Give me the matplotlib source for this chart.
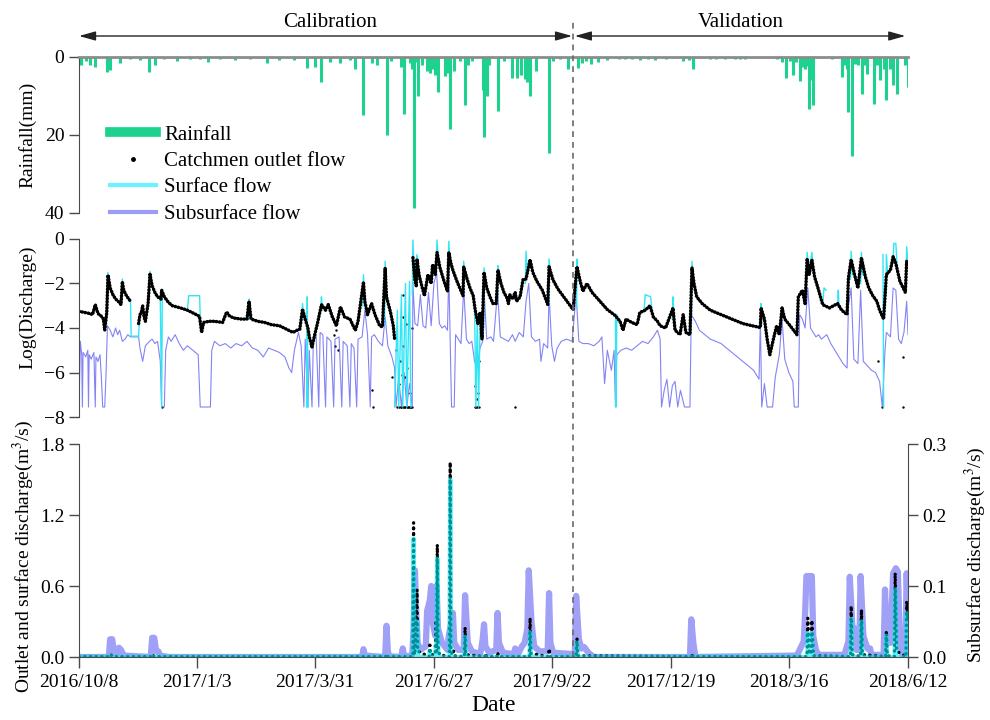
import numpy as np
import pandas as pd
import matplotlib
matplotlib.use('Agg')
import matplotlib.pyplot as plt
import matplotlib.dates as mdates
from matplotlib.lines import Line2D
from matplotlib.ticker import FormatStrFormatter
from matplotlib.transforms import blended_transform_factory

plt.rcParams.update({'font.family': 'serif',
                     'font.serif': ['Liberation Serif'],
                     'mathtext.fontset': 'stix',
                     'font.size': 14})

# time axis: days counted from the first day of the record
start = pd.Timestamp('2016-10-08')
end = pd.Timestamp('2018-06-12')
split = pd.Timestamp('2017-10-08')   # calibration | validation
tick_labels = ['2016/10/8', '2017/1/3', '2017/3/31', '2017/6/27',
               '2017/9/22', '2017/12/19', '2018/3/16', '2018/6/12']

nan = np.nan
FLOOR = -7.55   # log value used where the flow is zero

# daily rainfall (day, mm)
rain = [(1.5, 2.0), (5, 1.0), (8, 2.0), (12, 2.7), (21, 3.8), (23, 3.4), (30, 1.5),
        (38, 0.6), (45, 0.8), (52, 3.8), (56, 2.0), (63, 0.5), (72, 1.0), (82, 0.5),
        (89, 0.6), (95, 1.2), (104, 0.6), (115, 0.8), (126, 0.6), (139, 1.5), (148, 0.8),
        (159, 0.7), (168, 2.9), (174, 2.5), (179, 6.4), (185, 1.2), (193, 1.6), (200, 0.8),
        (204, 3.0), (210, 15.0), (216, 1.5), (220, 2.0), (227, 19.9), (230, 1.0),
        (238, 2.6), (240, 14.7), (244, 1.5), (246, 3.0), (247, 38.7), (249, 1.3),
        (250, 10.0), (253, 2.0), (257, 3.5), (259, 4.0), (261, 3.0), (263, 4.5),
        (264, 3.0), (265, 9.0), (270, 4.9), (272, 4.0), (274, 18.4), (277, 3.5),
        (281, 1.0), (285, 12.3), (287, 2.0), (290, 1.0), (298, 8.6), (299, 20.5),
        (301, 10.0), (303, 2.0), (309, 13.9), (314, 1.0), (320, 5.4), (323, 5.4),
        (326, 4.5), (329, 5.7), (331, 6.5), (333, 9.9), (337, 3.5), (347, 24.5),
        (350, 1.0), (355, 0.6), (361, 3.2), (368, 2.8), (371, 1.5), (374, 1.0),
        (378, 1.9), (383, 1.2), (390, 0.8), (399, 0.6), (403, 0.6), (408, 0.5),
        (414, 0.8), (420, 0.5), (425, 0.8), (433, 0.5), (446, 1.0), (450, 0.8),
        (453, 3.2), (466, 0.6), (470, 0.6), (477, 0.6), (484, 0.5), (488, 0.6),
        (492, 0.5), (515, 0.6), (519, 1.2), (522, 5.4), (525, 1.0), (527, 4.5),
        (529, 1.2), (532, 6.2), (534, 2.5), (536, 3.0), (537, 2.2), (539, 13.4),
        (540, 6.0), (542, 12.2), (556, 0.5), (563, 5.1), (565, 2.0), (567, 3.0),
        (568, 14.1), (571, 25.5), (573, 1.7), (575, 2.0), (578, 9.6), (580, 2.0),
        (582, 4.4), (587, 12.0), (589, 2.0), (591, 6.0), (594, 3.0), (596, 11.1),
        (599, 3.0), (601, 7.3), (604, 9.5), (610, 2.1), (612, 7.7)]

# observed outlet flow, log scale (day, value); nan = no record
obs_log = [(0, -3.25), (4, -3.3), (8, -3.35), (10, -3.4), (12, -2.95), (14, -3.35),
           (17, -3.5), (18, -3.6), (19, -4.1), (20.5, -3.3), (21.4, -1.62), (23, -2.2),
           (25, -2.5), (27, -2.7), (29, -2.8), (31, -2.95), (32, -1.92), (33, -2.3),
           (35, -2.55), (38, -2.8), (41, nan), (44, -3.8), (45, -3.4), (46, -3.3),
           (47, -3.0), (48, -3.5), (49, -3.7), (51, -2.9), (52.4, -1.59), (54, -2.1),
           (56, -2.4), (58, -2.6), (60.5, -2.7), (61, -2.3), (63, -2.6), (66, -2.85),
           (69, -3.0), (75, -3.1), (80, -3.2), (85, -3.35), (89, -3.48), (90.5, -4.2),
           (92, -3.75), (96, -3.7), (100, -3.7), (106, -3.75), (109, -3.28), (111, -3.45),
           (114, -3.55), (120, -3.6), (124, -3.6), (125.5, -2.8), (127, -3.6), (132, -3.7),
           (137, -3.75), (142, -3.85), (148, -3.9), (153, -4.05), (158, -4.2), (161, -4.1),
           (163, -4.05), (165, -3.15), (167, -3.6), (169, -4.0), (170, -4.4), (172, -4.85),
           (174, -4.3), (176, -3.8), (179, -2.95), (182, -3.2), (184, -2.95), (187, -3.5),
           (190, -3.9), (193, -3.05), (196, -3.5), (200, -3.6), (204, -4.1), (206, -3.7),
           (210, -1.93), (211, -2.8), (213, -3.4), (216, -2.9), (218.5, -3.4), (222, -3.9),
           (224, -3.95), (226, -1.3), (227, -2.6), (230, -3.3), (232, -3.9), (233, -4.5),
           (240, nan), (246.5, -0.84), (248, -1.9), (249, -2.1), (249.5, -0.9), (251, -1.6),
           (253, -2.1), (255, -2.55), (257.6, -1.6), (260, -2.0), (261, -1.15), (263, -1.6),
           (264.3, -0.61), (266.5, -1.3), (269.5, -1.9), (272, -2.35), (273, -0.6),
           (274.6, -1.1), (276, -1.4), (279, -1.9), (283.5, -2.55), (284, -1.25),
           (286.5, -1.8), (288.6, -2.2), (291, -2.55), (292.5, -3.2), (294.5, -3.8),
           (296, -3.3), (297.5, -4.5), (299, -1.5), (301, -2.2), (303.4, -2.6),
           (305.6, -2.9), (308, -2.9), (309.3, -1.4), (311.5, -2.0), (313.7, -2.4),
           (316, -2.66), (317, -2.9), (318, -2.5), (320, -2.7), (322, -2.4), (323, -2.8),
           (325.6, -2.6), (327.8, -1.82), (330, -1.8), (333, -0.93), (335, -1.5),
           (338, -1.9), (342, -2.3), (346, -2.94), (347, -1.25), (350, -1.85),
           (353.6, -2.25), (359, -2.7), (364.7, -3.17), (367.6, -1.25), (370, -1.9),
           (372, -2.35), (375, -2.0), (378.7, -2.4), (384.6, -2.8), (390, -3.17),
           (396, -3.45), (399.4, -3.7), (401.6, -4.1), (403.8, -3.6), (408, -3.75),
           (412, -3.85), (414, -3.3), (418, -3.2), (421.5, -3.0), (424, -3.5), (427, -3.7),
           (429, -3.9), (433, -4.0), (438.5, -3.1), (440, -4.1), (443.7, -4.3), (446, -3.4),
           (448, -4.2), (451, -4.3), (452.5, -1.29), (454, -2.0), (456, -2.6), (460, -2.9),
           (466, -3.2), (472, -3.35), (478, -3.5), (484, -3.65), (490, -3.8), (497, -3.9),
           (503, -3.98), (503.5, -3.1), (506, -3.6), (508, -4.5), (510, -5.2), (513, -4.4),
           (515, -3.9), (517, -4.3), (519, -3.1), (521, -3.6), (525, -3.9), (530, -4.3),
           (531, -2.6), (534, -2.3), (536, -2.9), (537.5, -0.93), (539, -1.6), (541, -0.93),
           (543, -1.7), (546, -2.3), (549, -2.95), (554, -3.1), (560, -2.9), (563, -3.2),
           (567, -3.4), (568, -1.75), (570, -0.93), (572.5, -1.6), (575, -2.2),
           (577.6, -0.84), (580.5, -1.7), (583, -2.2), (586, -2.55), (589, -2.8),
           (591, -3.2), (594, -3.6), (596, -1.6), (599, -1.4), (601, -0.8), (603, -1.1),
           (606, -1.9), (610, -2.4), (611, -1.0), (612, -1.2)]

# isolated observed records off the main curve (day, value)
obs_log_loose = [(61, FLOOR), (188, -4.3), (189, -4.8), (190, -4.1), (191, -5.0),
                 (216.5, -6.8), (217, FLOOR), (231, -6.2), (234, -5.0), (235, FLOOR),
                 (236, -6.5), (236.5, FLOOR), (237, -5.5), (237.5, FLOOR), (238, FLOOR),
                 (238.5, -6.1), (239, -2.5), (239, -3.5), (239, -4.8), (239.5, FLOOR),
                 (240, FLOOR), (240.5, -6.2), (241, FLOOR), (241.5, -3.8), (242, FLOOR),
                 (242.5, -5.8), (243, FLOOR), (243.5, FLOOR), (244, -6.9), (244.5, FLOOR),
                 (245, FLOOR), (245.5, -4.0), (246, FLOOR), (292, FLOOR), (292.5, -6.6),
                 (293, FLOOR), (293.5, -7.2), (294, FLOOR), (294.5, -6.9), (295, FLOOR),
                 (295.5, -5.5), (322, FLOOR), (590, -5.5), (593, FLOOR), (608, -5.3),
                 (608.5, FLOOR)]

# simulated surface flow, log scale; only event segments are defined
surf_log = [(20, -3.4), (21.3, -1.5), (23, -2.3), (24, nan),
            (31.5, -2.9), (32, -1.8), (33, -2.4), (34, nan),
            (38, -2.8), (38.5, -4.37), (44, -4.37), (44.5, -3.8), (45, nan),
            (52, -2.4), (52.4, -1.45), (54, -2.1), (55, nan),
            (60, -2.7), (61, FLOOR), (61.5, -2.4), (62, nan),
            (80, -3.2), (81, -2.55), (89, -2.55), (89.5, -3.48), (90, nan),
            (125, -3.6), (125.5, -2.7), (126, -3.6), (127, nan),
            (164.5, -3.6), (165, -2.9), (166, -3.6), (167, nan),
            (168, FLOOR), (168.5, -2.6), (169, FLOOR), (170, nan),
            (178.5, -3.2), (179, -2.6), (179.5, -3.2), (180, nan),
            (209.5, -3.0), (210, -1.6), (211, -2.8), (212, nan),
            (225.5, -3.9), (226, -1.0), (227, -2.6), (228, nan),
            (233, FLOOR), (235, -3.2), (236, FLOOR), (238, -2.5), (239, FLOOR),
            (241, -2.0), (242, FLOOR), (244, -1.9), (245, FLOOR), (245.5, nan),
            (246, -2.5), (246.5, -0.05), (247.5, -1.6), (249.5, -0.7), (251, -1.8), (252, nan),
            (263.5, -1.5), (264.3, -0.05), (265.5, -1.2), (266, nan),
            (272.5, -2.3), (273, -0.1), (274, -1.2), (275, nan),
            (283.8, -2.5), (284, -1.0), (285, -1.8), (286, nan),
            (292, -3.0), (293, FLOOR), (294, -3.5), (295, FLOOR), (296, -4.0), (297, nan),
            (298.8, -4.0), (299, -1.3), (300, -2.0), (301, nan),
            (309, -2.8), (309.3, -1.2), (310, -1.9), (311, nan),
            (329.5, -2.0), (330, -0.55), (331, -1.5), (332, nan),
            (346.8, -2.9), (347, -0.9), (348, -1.5), (349, nan),
            (367.3, -3.1), (367.6, -0.9), (368.5, -1.6), (369, nan),
            (396, -3.4), (396.5, FLOOR), (397, -3.4), (398, nan),
            (417, -3.3), (418, -2.5), (422, -2.6), (423, -3.2), (424, nan),
            (438, -3.6), (438.5, -2.6), (439, -3.8), (440, nan),
            (452, -4.2), (452.5, -1.0), (453.5, -2.0), (454, nan),
            (503, -3.9), (503.5, -2.9), (504, -3.8), (505, nan),
            (537, -2.0), (537.5, -0.6), (539, -1.5), (541, -0.6), (542.5, -1.6), (543, nan),
            (549, -3.0), (550, -2.2), (551.5, -2.3), (552, nan),
            (560, -3.0), (560.5, -2.3), (561, -3.0), (562, nan),
            (569.5, -1.8), (570, -0.55), (571, -1.6), (572, nan),
            (577, -2.0), (577.6, -0.6), (578.5, -1.6), (579, nan),
            (593.5, -0.7), (594, FLOOR), (595, nan),
            (595.8, -2.5), (596, -0.7), (597, -1.6), (598, nan),
            (601, -1.0), (601.5, -0.2), (603, -0.2), (604, -1.3), (605, nan),
            (610.5, -2.0), (611, -0.35), (612, -1.0)]

# simulated subsurface flow, log scale
sub_log = [(0, FLOOR), (1, -4.6), (2, -5.2), (2.5, FLOOR), (3, -5.1), (5, -5.3), (6.5, -5.0),
           (7, FLOOR), (7.5, -5.2), (9, -5.4), (11, -5.1), (12, FLOOR), (12.5, -5.3),
           (14, -5.5), (15.5, -5.2), (16.5, -6.2), (17.5, FLOOR), (19, FLOOR), (20, -6.0),
           (21, -3.9), (23, -4.1), (25, -4.4), (27, -4.0), (28.5, -4.3), (30, -4.1),
           (32, -4.6), (34, -4.5), (36, -4.3), (38, -4.4), (44, -4.4), (45, -4.9),
           (47, -5.5), (49, -4.8), (52, -4.6), (54, -4.5), (56, -4.7), (58, -4.6),
           (60, -5.5), (61, FLOOR), (63, FLOOR), (64, -5.0), (66, -4.4), (68, -4.6),
           (71, -4.3), (74, -4.7), (77, -5.0), (80, -4.8), (84, -5.0), (88, -5.2),
           (89.5, FLOOR), (97, FLOOR), (98, -5.0), (100, -4.6), (104, -4.8), (108, -4.7),
           (112, -4.9), (116, -4.7), (120, -4.8), (124, -4.6), (128, -4.9), (132, -5.0),
           (136, -5.3), (140, -4.9), (144, -5.0), (148, -5.1), (152, -5.3), (155, -5.8),
           (157, -6.0), (159, -5.0), (162, -4.2), (164, -4.8), (166, FLOOR), (167, -4.5),
           (169, FLOOR), (170, -5.0), (172, FLOOR), (173, -4.6), (175, -4.3), (177, FLOOR),
           (178, -4.2), (180, -4.3), (182, FLOOR), (183, -4.4), (186, -4.6), (188, FLOOR),
           (189, -4.5), (192, -4.4), (194, FLOOR), (195, -4.6), (198, -4.8), (200, FLOOR),
           (201, -4.7), (203, -4.9), (205, FLOOR), (206, -4.5), (209, -4.4), (211, -3.2),
           (213, -4.3), (215, FLOOR), (216, -4.4), (218, -4.3), (221, -4.6), (224, -4.8),
           (226, -3.5), (228, -4.8), (231, -5.3), (233, -5.8), (234, FLOOR), (236, -6.2),
           (238, FLOOR), (240, -6.0), (242, FLOOR), (244, -6.5), (246, FLOOR), (246.5, -2.0),
           (248, -3.8), (250, -3.9), (252, -2.5), (254, -3.9), (256, -4.0), (258, -2.4),
           (260, -3.9), (262, -2.0), (264, -1.5), (266, -3.8), (268, -4.0), (270, -3.9),
           (272, -4.1), (273, -1.5), (275, FLOOR), (277, FLOOR), (278, -4.3), (280, -4.5),
           (282, -4.7), (284, -2.2), (286, -4.5), (288, -4.7), (290, -4.6), (292, -5.5),
           (294, -5.8), (296, -4.9), (298, -4.6), (299, -2.3), (301, -4.5), (304, -4.4),
           (306, -4.6), (309, -2.3), (311, -4.4), (314, -4.5), (317, -4.6), (320, -4.3),
           (322, -4.6), (325, -4.2), (328, -4.4), (330, -2.8), (332, -2.0), (334, -4.4),
           (337, -4.6), (340, -4.5), (341, -5.5), (343, -4.7), (346, -4.9), (347, -2.5),
           (349, -4.8), (351, -5.5), (353, -4.9), (356, -4.6), (360, -4.5), (364, -4.6),
           (367, -2.5), (369, -4.6), (372, -4.7), (376, -4.7), (380, -4.8), (384, -4.6),
           (386, -4.4), (388, -6.5), (390, -5.0), (393, -5.9), (395, -5.0), (396, FLOOR),
           (397, -5.2), (400, -5.0), (404, -4.9), (408, -5.0), (412, -4.8), (416, -4.6),
           (420, -4.7), (424, -4.4), (427, -4.1), (429, -4.5), (430, FLOOR), (432, -6.8),
           (434, -6.3), (436, FLOOR), (438, -6.6), (440, -6.4), (442, FLOOR), (444, -6.8),
           (447, FLOOR), (451, FLOOR), (452, -3.4), (455, -3.7), (458, -4.1), (462, -4.3),
           (466, -4.5), (470, -4.6), (474, -4.7), (478, -4.9), (482, -5.1), (486, -5.3),
           (490, -5.5), (494, -5.7), (498, -5.9), (502, -6.3), (503, -3.6), (504, FLOOR),
           (506, -6.5), (508, FLOOR), (512, FLOOR), (514, -6.2), (517, -5.2), (519, -3.6),
           (521, -5.4), (524, -6.0), (527, -6.4), (528, FLOOR), (531, FLOOR), (532, -3.4),
           (534, -3.6), (536, -4.0), (538, -2.2), (540, -4.0), (542, -4.2), (544, -4.4),
           (546, -4.3), (548, -4.5), (550, -4.4), (552, -4.3), (555, -4.7), (558, -5.0),
           (561, -5.3), (564, -5.6), (567, -5.8), (568, -3.0), (570, -2.2), (572, -5.4),
           (575, -5.6), (577, -2.3), (579, -5.5), (582, -5.7), (585, -5.9), (588, -6.0),
           (591, -6.4), (593, FLOOR), (595, -5.0), (596, -4.2), (599, -4.4), (601, -2.2),
           (603, -2.3), (605, -4.5), (607, -4.7), (609, -4.2), (611, -2.8), (612, -4.3)]

# observed outlet discharge, m3/s (day, value)
obs_q = [(0, 0.003), (23, 0.003), (23.6, 0.02), (24.5, 0.003), (54, 0.003), (54.5, 0.02),
         (55.5, 0.003), (226.5, 0.003), (227, 0.025), (228, 0.003), (246.5, 0.003),
         (247, 1.135), (247.3, 0.05), (248, 0.02), (249.5, 0.57), (250, 0.05),
         (258.5, 0.003), (259, 0.1), (259.5, 0.02), (263, 0.02), (263.5, 0.31),
         (264, 0.05), (264.5, 0.95), (265, 0.1), (266, 0.02), (273.5, 0.003),
         (274, 1.645), (274.5, 0.06), (275.5, 0.02), (276.5, 0.05), (277, 0.01),
         (284.5, 0.003), (285, 0.25), (285.5, 0.02), (299.5, 0.003), (300, 0.03),
         (301, 0.003), (308.5, 0.003), (309, 0.04), (310, 0.003), (332.5, 0.003),
         (333, 0.33), (333.5, 0.03), (346.5, 0.003), (347, 0.07), (348, 0.003),
         (367, 0.003), (367.6, 0.16), (368.2, 0.01), (452, 0.003), (452.5, 0.03),
         (453.2, 0.003), (537.5, 0.003), (538, 0.33), (539, 0.03), (540.5, 0.03),
         (541, 0.31), (542, 0.01), (569.5, 0.003), (570, 0.43), (570.7, 0.02),
         (577, 0.003), (577.6, 0.4), (578.3, 0.02), (595.5, 0.003), (596, 0.22),
         (596.7, 0.01), (602, 0.003), (602.5, 0.71), (603.5, 0.05), (610.5, 0.003),
         (611, 0.47), (612, 0.3)]

# simulated surface discharge, m3/s
surf_q = [(0, 0.0), (23.3, 0.0), (23.6, 0.01), (24, 0.0), (246.6, 0.0), (247, 1.0),
          (247.5, 0.1), (249, 0.05), (249.5, 0.3), (250.2, 0.0), (258.8, 0.0), (259, 0.05),
          (259.5, 0.0), (263.3, 0.0), (263.5, 0.1), (263.8, 0.02), (264.5, 0.83),
          (265.2, 0.02), (266, 0.0), (273.6, 0.0), (274, 1.5), (274.6, 0.02), (275.5, 0.0),
          (284.7, 0.0), (285, 0.17), (285.5, 0.0), (332.7, 0.0), (333, 0.21), (333.6, 0.0),
          (367.3, 0.0), (367.6, 0.12), (368.2, 0.0), (537.7, 0.0), (538, 0.2),
          (538.6, 0.01), (540.7, 0.01), (541, 0.2), (541.6, 0.0), (569.7, 0.0), (570, 0.32),
          (570.6, 0.0), (577.3, 0.0), (577.6, 0.3), (578.2, 0.0), (595.7, 0.0), (596, 0.18),
          (596.6, 0.0), (602.2, 0.0), (602.5, 0.57), (603.3, 0.0), (610.7, 0.0), (611, 0.37),
          (612, 0.2)]

# simulated subsurface discharge, m3/s (right axis)
sub_q = [(0, 0.0), (22, 0.0), (23, 0.025), (24.5, 0.025), (26, 0.006), (28, 0.004),
         (29.5, 0.013), (31, 0.01), (33, 0.002), (53, 0.0), (54, 0.027), (55.5, 0.027),
         (57, 0.008), (58.5, 0.008), (60, 0.002), (66, 0.0), (209, 0.0), (210, 0.011),
         (211, 0.002), (226, 0.0), (227, 0.044), (228, 0.008), (229, 0.001), (238, 0.0),
         (239, 0.012), (240, 0.001), (246, 0.002), (247, 0.04), (248, 0.122), (249, 0.06),
         (250, 0.02), (252, 0.01), (256, 0.015), (257, 0.065), (259, 0.08), (260, 0.1),
         (261, 0.05), (263, 0.03), (264, 0.1), (265, 0.04), (268, 0.02), (272, 0.01),
         (273, 0.03), (275, 0.05), (276, 0.062), (277, 0.02), (280, 0.01), (284, 0.01),
         (285, 0.087), (287, 0.02), (290, 0.008), (296, 0.004), (297, 0.012), (298, 0.025),
         (299, 0.046), (300, 0.015), (303, 0.006), (308, 0.01), (309, 0.062), (310, 0.02),
         (313, 0.006), (321, 0.004), (322, 0.012), (324, 0.004), (327, 0.015), (329, 0.02),
         (331, 0.04), (332, 0.122), (334, 0.05), (336, 0.015), (340, 0.008), (346, 0.008),
         (347, 0.09), (348, 0.02), (350, 0.006), (366, 0.004), (367, 0.086), (369, 0.025),
         (371, 0.012), (373, 0.014), (376, 0.006), (380, 0.0), (451, 0.0), (452, 0.053),
         (453.5, 0.02), (455, 0.0), (530, 0.002), (535, 0.022), (536, 0.06), (537, 0.114),
         (541, 0.114), (542, 0.03), (544, 0.01), (546, 0.003), (565, 0.003), (568, 0.022),
         (569, 0.113), (571, 0.04), (573, 0.04), (574, 0.01), (576, 0.01), (577, 0.114),
         (579, 0.03), (582, 0.012), (584, 0.012), (585, 0.003), (594, 0.003), (595, 0.095),
         (596.5, 0.02), (599, 0.02), (601, 0.118), (603, 0.125), (604.5, 0.12), (606, 0.02),
         (608, 0.002), (610, 0.003), (611, 0.118), (612, 0.05)]


def split_xy(pairs):
    days, vals = np.array(pairs, dtype=float).T
    dates = (start + pd.to_timedelta(days, unit='D')).to_numpy()
    return dates, vals


# colours
c_rain = '#1DD28F'
c_surf = '#2FE6F5'
c_sub = '#A0A0F6'
c_sub_log = '#5A5AF2'
c_spine = '#4a4a4a'

fig = plt.figure(figsize=(9.9, 7.2), dpi=100)
left, width = 0.0798, 0.8374
ax1 = fig.add_axes([left, 0.7042, width, 0.2167])
ax2 = fig.add_axes([left, 0.4208, width, 0.2473])
ax3 = fig.add_axes([left, 0.0875, width, 0.2958])
ax4 = ax3.twinx()

# rainfall hanging from the top
x, y = split_xy(rain)
ax1.vlines(x, 0, y, color=c_rain, lw=2.2)
ax1.set_ylim(40, 0)
ax1.set_yticks([0, 20, 40])
ax1.set_ylabel('Rainfall(mm)')

# log discharge
x, y = split_xy(sub_log)
ax2.plot(x, y, color=c_sub_log, lw=0.8, alpha=0.75)
x, y = split_xy(surf_log)
ax2.plot(x, y, color=c_surf, lw=1.0)
x, y = split_xy(obs_log)
ax2.plot(x, y, color='k', lw=2.5, ls=(0, (0.1, 0.8)), dash_capstyle='round')
x, y = split_xy(obs_log_loose)
ax2.scatter(x, y, s=3, color='k', linewidths=0)
ax2.set_ylim(-8, 0)
ax2.set_yticks([0, -2, -4, -6, -8])
ax2.set_ylabel('Log(Discharge)')

# discharge, linear
x, y = split_xy(sub_q)
ax4.plot(x, y, color=c_sub, lw=4.5, solid_joinstyle='round')
x, y = split_xy(obs_q)
ax3.plot(x, y, color='k', lw=2.4, ls=(0, (0.1, 1.6)), dash_capstyle='round')
x, y = split_xy(surf_q)
ax3.plot(x, y, color='#00E8F0', lw=3.2, alpha=0.62)
ax3.set_ylim(0, 1.8)
ax3.set_yticks([0, 0.6, 1.2, 1.8])
ax3.yaxis.set_major_formatter(FormatStrFormatter('%.1f'))
ax4.set_ylim(0, 0.3)
ax4.set_yticks([0, 0.1, 0.2, 0.3])
ax4.yaxis.set_major_formatter(FormatStrFormatter('%.1f'))
ax3.set_zorder(ax4.get_zorder() + 1)
ax3.patch.set_visible(False)
ax3.set_ylabel('Outlet and surface discharge(m$^3$/s)')
ax4.set_ylabel('Subsurface discharge(m$^3$/s)')
ax3.set_xlabel('Date', fontsize=17, labelpad=3)

tick_dates = pd.to_datetime(tick_labels, format='%Y/%m/%d')
for ax in (ax1, ax2, ax3, ax4):
    ax.set_xlim(start, end)
    for s in ax.spines.values():
        s.set_visible(False)
        s.set_color(c_spine)
    ax.tick_params(direction='out', length=7, width=1, colors=c_spine,
                   labelcolor='k', labelsize=14)
for ax in (ax1, ax2):
    ax.spines['left'].set_visible(True)
    ax.set_xticks([])
ax1.spines['top'].set_visible(True)
ax1.spines['top'].set_color('#8c8c8c')
ax1.spines['top'].set_linewidth(2)
ax3.spines['left'].set_visible(True)
ax3.spines['bottom'].set_visible(True)
ax4.spines['right'].set_visible(True)
ax3.set_xticks(tick_dates)
ax3.set_xticklabels(tick_labels)
ax3.tick_params(axis='x', length=8, pad=4)

for ax, yc in ((ax1, 0.5), (ax2, 0.615), (ax3, 0.474)):
    ax.yaxis.set_label_coords(-0.052, yc)
ax4.yaxis.set_label_coords(1.066, 0.48)

# calibration / validation split
xs = mdates.date2num(split)
x0 = mdates.date2num(start)
x1 = mdates.date2num(end)
trans = blended_transform_factory(ax3.transData, fig.transFigure)
fig.add_artist(Line2D([xs, xs], [0.0875, 0.972], transform=trans,
                      color='#6a6a6a', lw=1.2, ls=(0, (3.5, 3))))
arrow = dict(arrowstyle='<|-|>,head_length=1.0,head_width=0.28', color='#222222',
             lw=1.0, shrinkA=0, shrinkB=0, mutation_scale=10)
ttop = blended_transform_factory(ax1.transData, fig.transFigure)
ax1.annotate('', xy=(x0, 0.95), xytext=(xs - 1, 0.95), xycoords=ttop,
             textcoords=ttop, arrowprops=arrow, annotation_clip=False)
ax1.annotate('', xy=(xs + 1, 0.95), xytext=(x1 - 2, 0.95), xycoords=ttop,
             textcoords=ttop, arrowprops=arrow, annotation_clip=False)
ax1.text((x0 + xs) / 2 + 3, 0.969, 'Calibration', transform=ttop,
         ha='center', va='center', fontsize=15)
ax1.text((xs + x1) / 2, 0.969, 'Validation', transform=ttop,
         ha='center', va='center', fontsize=15)

handles = [Line2D([], [], color=c_rain, lw=7),
           Line2D([], [], ls='none', marker='o', ms=2.5, color='k'),
           Line2D([], [], color='#6CF3FF', lw=3),
           Line2D([], [], color='#9C9CF6', lw=3)]
labels = ['Rainfall', 'Catchmen outlet flow', 'Surface flow', 'Subsurface flow']
fig.legend(handles, labels, loc='upper left', bbox_to_anchor=(110 / 990, 1 - 125 / 720),
           frameon=False, fontsize=15, handlelength=2.2, handletextpad=0.4,
           labelspacing=0.33, borderaxespad=0, borderpad=0)

fig.savefig('out.png', dpi=100)
